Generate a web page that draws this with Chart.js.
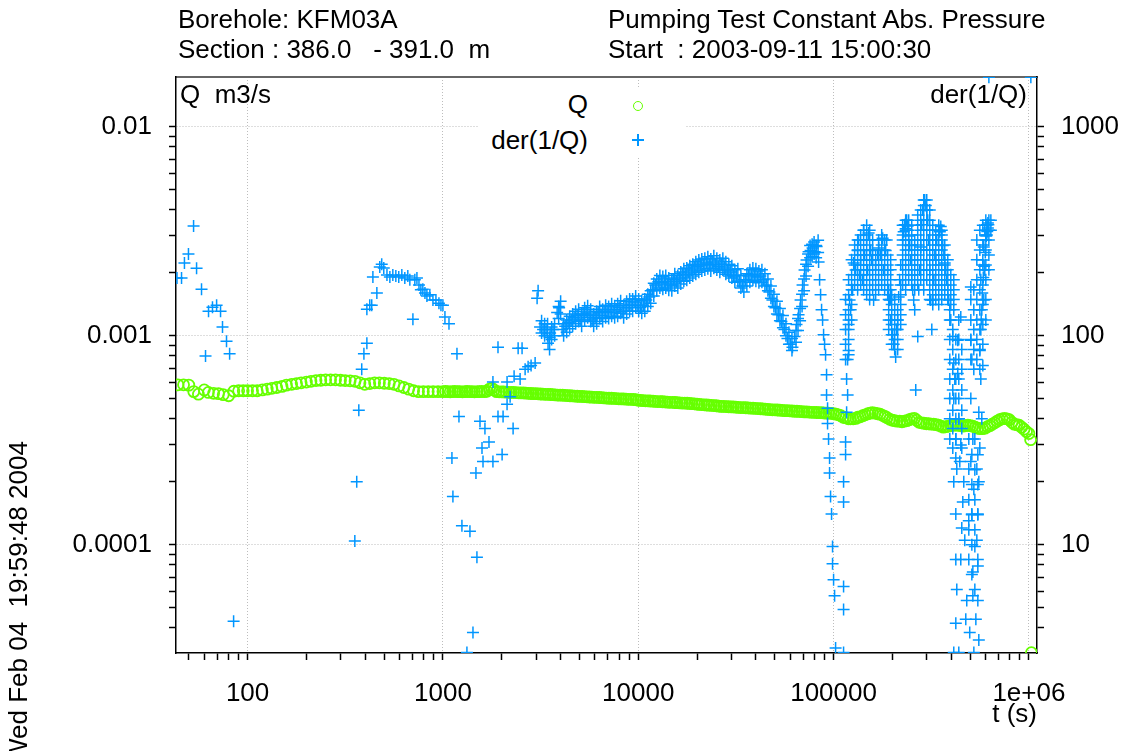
<!DOCTYPE html>
<html><head><meta charset="utf-8">
<script src="https://cdn.jsdelivr.net/npm/chart.js@4.4.1/dist/chart.umd.min.js"></script>
<style>
html,body{margin:0;padding:0;background:#fff;overflow:hidden;}
#wrap{position:relative;width:1125px;height:751px;overflow:hidden;}
canvas{position:absolute;left:0;top:0;}
.t{position:absolute;font-family:'Liberation Sans',Arial,sans-serif;font-size:26px;line-height:26px;color:#000;white-space:pre;}
</style></head><body>
<div id="wrap">
<canvas id="c" width="1125" height="751"></canvas>
<div class="t" style="left:178px;top:6px">Borehole: KFM03A</div>
<div class="t" style="left:178px;top:36px">Section : 386.0   - 391.0  m</div>
<div class="t" style="left:608px;top:6px">Pumping Test Constant Abs. Pressure</div>
<div class="t" style="left:608px;top:36px">Start  : 2003-09-11 15:00:30</div>
<div class="t" style="left:180px;top:81px">Q  m3/s</div>
<div class="t" style="right:98px;top:81px">der(1/Q)</div>
<div style="position:absolute;left:478px;top:88px;width:208px;height:70px;background:#fff"></div>
<div class="t" style="right:537px;top:91px">Q</div>
<div class="t" style="right:537px;top:127px">der(1/Q)</div>
<div style="position:absolute;left:633px;top:101px;width:10px;height:10px;box-sizing:border-box;border:1.5px solid rgb(102,255,0);border-radius:50%"></div>
<div style="position:absolute;left:632px;top:139px;width:12px;height:1.5px;background:rgb(0,150,255)"></div>
<div style="position:absolute;left:637.25px;top:134px;width:1.5px;height:12px;background:rgb(0,150,255)"></div>
<div class="t" style="left:5px;top:763px;transform-origin:0 0;transform:rotate(-90deg)">Wed Feb 04  19:59:48 2004</div>
</div>
<script>
// ---------------- data ----------------
// Q (m3/s) versus time t (s)
const tQ = [44,47,50,53,56,60,63,67,71,75,80,85,90,95,
100,106,112,119,126,133,141,150,158,168,178,188,200,211,224,237,251,266,282,299,316,335,355,376,398,422,447,473,501,531,562,596,631,668,708,750,794,841,891,944,
1000,1030,1060,1090,1120,1150,1190,1220,1260,1300,
1330,1370,1410,1450,1500,1540,1580,1630,1680,1730,
1780,1830,1880,1940,2000,2050,2110,2180,2240,2300,
2370,2440,2510,2590,2660,2740,2820,2900,2990,3070,
3160,3250,3350,3450,3550,3650,3760,3870,3980,4100,
4220,4340,4470,4600,4730,4870,5010,5160,5310,5460,
5620,5790,5960,6130,6310,6490,6680,6880,7080,7290,
7500,7720,7940,8180,8410,8660,8910,9170,9440,9720,
10000,10300,10600,10900,11200,11500,11900,12200,12600,13000,
13300,13700,14100,14500,15000,15400,15800,16300,16800,17300,
17800,18300,18800,19400,20000,20500,21100,21800,22400,23000,
23700,24400,25100,25900,26600,27400,28200,29000,29900,30700,
31600,32500,33500,34500,35500,36500,37600,38700,39800,41000,
42200,43400,44700,46000,47300,48700,50100,51600,53100,54600,
56200,57900,59600,61300,63100,64900,66800,68800,70800,72900,
75000,77200,79400,81800,84100,86600,89100,91700,94400,97200,
100000,103000,106000,109000,112000,115000,119000,122000,126000,130000,
133000,137000,141000,145000,150000,154000,158000,163000,168000,173000,
178000,183000,188000,194000,200000,205000,211000,218000,224000,230000,
237000,244000,251000,259000,266000,274000,282000,290000,299000,307000,
316000,325000,335000,345000,355000,365000,376000,387000,398000,410000,
422000,434000,447000,460000,473000,487000,501000,516000,531000,546000,
562000,579000,596000,613000,631000,649000,668000,688000,708000,729000,
750000,772000,794000,818000,841000,866000,891000,917000,944000,972000,
1000000,1020000,1030000];
const qValues = [5.82e-4,5.82e-4,5.8e-4,5.4e-4,5.25e-4,5.5e-4,5.35e-4,5.3e-4,5.28e-4,5.22e-4,5.16e-4,5.42e-4,5.45e-4,5.45e-4,
5.45e-4,5.45e-4,5.45e-4,5.5e-4,5.55e-4,5.6e-4,5.65e-4,5.72e-4,5.8e-4,5.85e-4,5.9e-4,5.95e-4,6.0e-4,6.05e-4,6.1e-4,6.12e-4,6.15e-4,6.15e-4,6.15e-4,6.12e-4,6.1e-4,6.08e-4,6.05e-4,5.95e-4,5.85e-4,5.9e-4,5.95e-4,5.95e-4,5.92e-4,5.9e-4,5.85e-4,5.75e-4,5.65e-4,5.55e-4,5.45e-4,5.4e-4,5.4e-4,5.4e-4,5.4e-4,5.4e-4,
5.40e-4,5.41e-4,5.40e-4,5.39e-4,5.40e-4,5.41e-4,5.40e-4,5.40e-4,5.39e-4,5.40e-4,
5.41e-4,5.40e-4,5.40e-4,5.39e-4,5.40e-4,5.40e-4,5.41e-4,5.40e-4,5.42e-4,5.55e-4,
5.60e-4,5.50e-4,5.40e-4,5.39e-4,5.38e-4,5.38e-4,5.37e-4,5.36e-4,5.35e-4,5.35e-4,
5.34e-4,5.33e-4,5.32e-4,5.32e-4,5.31e-4,5.30e-4,5.29e-4,5.28e-4,5.28e-4,5.27e-4,
5.26e-4,5.25e-4,5.24e-4,5.24e-4,5.23e-4,5.22e-4,5.21e-4,5.20e-4,5.19e-4,5.19e-4,
5.18e-4,5.17e-4,5.16e-4,5.15e-4,5.14e-4,5.13e-4,5.12e-4,5.12e-4,5.11e-4,5.10e-4,
5.09e-4,5.08e-4,5.07e-4,5.07e-4,5.06e-4,5.05e-4,5.04e-4,5.03e-4,5.02e-4,5.02e-4,
5.01e-4,5.00e-4,4.99e-4,4.98e-4,4.98e-4,4.97e-4,4.96e-4,4.96e-4,4.95e-4,4.94e-4,
4.91e-4,4.90e-4,4.89e-4,4.88e-4,4.88e-4,4.87e-4,4.86e-4,4.85e-4,4.84e-4,4.84e-4,
4.83e-4,4.82e-4,4.81e-4,4.80e-4,4.80e-4,4.79e-4,4.78e-4,4.77e-4,4.76e-4,4.76e-4,
4.75e-4,4.74e-4,4.73e-4,4.72e-4,4.70e-4,4.69e-4,4.68e-4,4.67e-4,4.66e-4,4.65e-4,
4.64e-4,4.63e-4,4.62e-4,4.60e-4,4.59e-4,4.59e-4,4.58e-4,4.57e-4,4.56e-4,4.56e-4,
4.55e-4,4.54e-4,4.53e-4,4.53e-4,4.52e-4,4.51e-4,4.50e-4,4.50e-4,4.49e-4,4.48e-4,
4.47e-4,4.46e-4,4.45e-4,4.44e-4,4.43e-4,4.42e-4,4.42e-4,4.41e-4,4.40e-4,4.39e-4,
4.38e-4,4.38e-4,4.37e-4,4.36e-4,4.35e-4,4.35e-4,4.34e-4,4.33e-4,4.32e-4,4.32e-4,
4.31e-4,4.30e-4,4.30e-4,4.29e-4,4.28e-4,4.28e-4,4.27e-4,4.26e-4,4.26e-4,4.25e-4,
4.23e-4,4.21e-4,4.18e-4,4.14e-4,4.07e-4,4.05e-4,4.00e-4,4.00e-4,4.00e-4,4.02e-4,
4.07e-4,4.09e-4,4.14e-4,4.18e-4,4.23e-4,4.26e-4,4.28e-4,4.26e-4,4.23e-4,4.21e-4,
4.16e-4,4.11e-4,4.05e-4,3.98e-4,3.94e-4,3.92e-4,3.90e-4,3.90e-4,3.87e-4,3.90e-4,
3.92e-4,3.96e-4,4.00e-4,4.02e-4,3.94e-4,3.85e-4,3.83e-4,3.81e-4,3.79e-4,3.79e-4,
3.77e-4,3.77e-4,3.75e-4,3.73e-4,3.69e-4,3.65e-4,3.67e-4,3.69e-4,3.71e-4,3.73e-4,
3.73e-4,3.73e-4,3.71e-4,3.69e-4,3.71e-4,3.73e-4,3.71e-4,3.69e-4,3.65e-4,3.61e-4,
3.59e-4,3.59e-4,3.61e-4,3.67e-4,3.71e-4,3.77e-4,3.83e-4,3.90e-4,3.96e-4,4.00e-4,
4.02e-4,4.00e-4,3.96e-4,3.85e-4,3.77e-4,3.75e-4,3.73e-4,3.65e-4,3.57e-4,3.47e-4,
3.40e-4,3.18e-4,3.04e-5];

// der(1/Q) versus time t (s): scattered points
const tDer = [43.5,45.9,47.5,49.8,52.9,54.8,58.1,60.9,63.1,66.1,
69.4,72.7,74.4,78.0,80.9,84.8,354,362,371,384,
394,408,408,422,432,438,459,475,486,498,
517,535,554,574,594,616,638,661,677,702,
718,736,754,771,789,809,828,857,889,921,
954,977,1000,1024,1074,1112,1125,1180,1208,1251,
1327,1375,1425,1476,1493,1548,1585,1604,1641,1721,
1803,1803,1914,1914,2009,2032,2130,2130,2208,2287,
2314,2427,2484,2542,2635,2730,2827,2965,3035,3071,
3143,3257,3374,3453,3538,3664,3844,3934,4076,4224,
4376,4533,4697,4866,5041,5222,5410,5605,5807,6015,
6233,6457,6690,6930,7180,7438,7706,7983,8270,8568,
8876,9196,9527,9870,10240,10610,10990,11380,11800,12220,
12670,13120,13590,14080,14590,15110,15660,16220,16810,17410,
18040,18690,19360,20060,20780,21530,22310,23110,23940,24800,
25700,26630,27590,28580,29610,30680,31780,32930,34120,35350,
36620,37940,39310,40730,42200,43720,45300,46930,48620,50380,
52190,54080,56030,58050,60140,61590,63100,64590,66180,67760,
69370,71020,72730,74480,76250,78070,79960,81860,83810,84800,
85800,86810,87840,88880,89930,90990,92060,92060,93150,93150,
94250,95370,95370,96500,97640,98790,98790,100000,101200,102400,
112500,112500,112500,112500,112500,115200,115200,116600,116600,118000,
118000,119400,119400,119400,120800,122300,123700,125100,126700,129700,
132800,134300,135900,137500,140800,142500,144200,147600,149300,151100,
154800,156600,160300,164100,168300,170100,174100,178300,180300,184800,
187000,189200,191400,193700,196000,200700,203100,207900,210400,212900,
215400,217900,220600,225800,228500,231200,233900,236700,239500,242400,
245300,248200,251200,254100,257100,260200,263400,269700,272900,276100,
279400,282700,286100,289700,292900,296500,299900,303500,307100,310700,
314400,318300,322100,325900,329800,333700,337500,345400,349900,353800,
358300,362200,366800,370800,375500,379700,384400,388700,393300,398100,
407600,412400,412400,412400,412400,417400,422400,422400,422400,422400,
427300,427300,432300,432300,437500,437500,442700,447900,447900,447900,
453200,458600,464000,469500,475100,480600,492100,497700,504200,504200,
504200,504200,510300,510300,516400,516400,516400,522500,522500,528700,
535000,541200,541200,547600,547600,547600,554000,554000,554000,560500,
560500,567200,567200,567200,573900,573900,580700,580700,587500,587500,
594400,594400,601700,609100,609100,616500,616500,623700,1023000,
570000,577000,584000,590000,598000,605000,612000,620000];
const derValues = [189,189,223,246,335,210,167,80,131,137,
140,131,110,94,82,4.3,10.4,20,44,69,
82,92,134,140,140,191,160,213,220,211,
195,191,195,193,191,195,189,193,185,120,
185,189,175,166,167,160,155,157,148,148,
143,140,140,123,114,26,17,82,41,12.3,
3.05,11.6,3.8,22,8.7,39,29,25,36,31,
25,60,41,88,27,41,47,60,51,36,
64,87,62,87,69,71,72,74,151,164,
110,107,107,92,103,107,129,136,107,111,
116,119,122,125,119,127,130,125,119,122,
129,125,131,129,133,130,133,137,131,136,
140,140,145,140,137,140,148,153,166,175,
181,179,181,177,175,185,181,189,195,197,
202,206,211,215,218,220,223,218,225,220,
215,220,211,206,202,193,195,181,173,185,
193,197,195,191,193,185,175,162,148,136,
126,117,107,97,91,88,99,113,126,148,
175,206,230,252,256,263,252,267,225,185,
157,133,119,101,91,81,65,52,45,38,
32,26,22,17,14,9.8,8.1,6.8,5.7,3.2,
3.05,4.9,6.3,20,16,27,31,43,62,77,
52,107,119,85,148,133,175,166,223,206,
256,287,195,230,185,320,243,287,206,310,
256,230,148,218,243,263,243,293,206,256,
287,206,166,148,119,101,91,79,107,119,
153,185,218,287,314,340,325,357,335,300,
270,230,195,166,148,133,55,99,166,206,
266,340,400,420,446,420,400,357,287,206,
148,107,148,185,243,230,287,320,314,333,
303,270,243,223,206,185,166,148,133,119,
99,74,50,20,3.05,62,14,8.5,4.2,32,
23,6.1,95,66,40,3.05,25,123,30,8.5,
12,16,20,10.5,4.4,5.4,13,3.8,171,95,
50,25,14,77,7.4,5.7,32,3.05,18.4,9.8,
4.4,10.5,23,14,7.9,5.4,43,20,3.5,29,
85,62,107,185,133,40,230,72,266,148,
320,206,287,340,303,346,328,1725,1725,
120,160,190,215,250,300,315,340];

// der(1/Q): upper and lower edges of the dense band (3000 - 85000 s)
const tDerBand = [3200,3316,3434,3515,3601,3730,3913,4005,4149,4300,
4455,4614,4781,4953,5131,5316,5507,5706,5911,6123,
6345,6573,6810,7054,7309,7572,7844,8126,8418,8721,
9035,9361,9698,10050,10420,10800,11190,11580,12010,12440,
12900,13360,13830,14330,14850,15380,15940,16510,17110,17720,
18360,19020,19710,20420,21150,21920,22710,23520,24370,25250,
26160,27110,28080,29090,30140,31230,32350,33520,34730,35980,
37280,38620,40010,41460,42960,44500,46110,47770,49490,51280,
53120,55050,57040,59090,61220,64230,65750,67370,68970,70610,
72290,74030,75810,77620,79470,81400,83330];
const derBandUpper = [118,114,114,98,110,114,138,146,114,119,
124,127,131,134,127,136,139,134,127,131,
138,134,140,138,142,139,142,147,140,146,
150,150,155,150,147,150,158,164,178,187,
194,192,194,189,187,198,194,202,209,211,
216,220,226,230,233,235,239,233,241,235,
230,235,226,220,216,207,209,194,185,198,
207,211,209,204,207,198,187,173,158,146,
135,125,114,104,97,106,121,135,158,187,
220,246,270,274,281,270,286];
const derBandLower = [103,100,100,86,96,100,121,127,100,104,
108,111,114,117,111,119,122,117,111,114,
121,117,122,121,124,122,124,128,122,127,
131,131,136,131,128,131,138,143,155,164,
169,167,169,165,164,173,169,177,182,184,
189,193,197,201,204,206,209,204,210,206,
201,206,197,193,189,180,182,169,162,173,
180,184,182,179,180,173,164,151,138,127,
118,109,100,91,85,93,106,118,138,164,
193,215,236,239,246,236,250];

// der(1/Q): dense clusters after 1e5 s (one line per time column)
const tDerCluster = [
115200,115200,115200,115200,115200,
119400,119400,119400,119400,119400,119400,
123700,123700,123700,123700,123700,
128200,128200,128200,128200,128200,
132800,132800,132800,132800,132800,132800,
137600,137600,137600,137600,137600,137600,
142500,142500,142500,142500,142500,142500,142500,
147700,147700,147700,147700,147700,147700,147700,147700,
153000,153000,153000,153000,153000,153000,153000,153000,
158500,158500,158500,158500,158500,158500,
164200,164200,164200,164200,164200,
170100,170100,170100,170100,170100,170100,
176300,176300,176300,176300,176300,176300,
182600,182600,182600,182600,182600,182600,
189200,189200,189200,189200,189200,
191500,191500,191500,191500,
196000,196000,196000,196000,196000,
198400,198400,198400,198400,198400,198400,
205500,205500,205500,205500,205500,205500,
212900,212900,212900,212900,212900,
220600,220600,220600,220600,220600,
225800,225800,225800,225800,225800,225800,225800,
233900,233900,233900,233900,233900,233900,233900,233900,
242400,242400,242400,242400,242400,242400,242400,
251200,251200,251200,251200,251200,251200,251200,
260200,260200,260200,260200,260200,260200,
269600,269600,269600,269600,269600,269600,269600,269600,
279300,279300,279300,279300,279300,279300,279300,279300,
289400,289400,289400,289400,289400,289400,289400,289400,289400,289400,
299900,299900,299900,299900,299900,299900,299900,299900,299900,
310700,310700,310700,310700,310700,310700,310700,310700,310700,310700,
321900,321900,321900,321900,321900,321900,321900,321900,321900,
333500,333500,333500,333500,333500,333500,333500,333500,
345500,345500,345500,345500,345500,345500,345500,345500,345500,
357900,357900,357900,357900,357900,357900,357900,357900,
370800,370800,370800,370800,370800,370800,
384200,384200,384200,384200,384200,
393500,393500,393500,393500,393500,393500,393500,
398100,398100,398100,398100,
407600,407600,407600,407600,407600,407600,407600,
412400,412400,412400,412400,
422400,422400,422400,422400,422400,422400,422400,
437500,437500,437500,437500,437500,437500,
453200,453200,453200,453200,453200,453200,
492300,492300,492300,492300,492300,
504200,504200,504200,504200,
510300,510300,510300,510300,510300,
522200,522200,522200,522200,522200,
528600,528600,528600,528600,528600,
541100,541100,541100,541100,541100,541100,541100,
547600,547600,547600,547600,
560700,560700,560700,560700,560700,560700,560700,560700,
580800,580800,580800,580800,580800,580800,580800,
601700,601700,601700,601700,601700,601700,601700,
623700,623700,623700,623700,623700,
638500,638500];
const derCluster = [
149,126,107,91,77,
185,157,133,113,96,81,
231,196,166,141,119,
272,243,218,196,175,
287,257,231,207,185,166,
303,272,243,218,196,175,
320,287,257,231,207,185,166,
338,303,272,243,218,196,175,157,
320,287,257,231,207,185,166,149,
287,257,231,207,185,166,
243,218,196,175,157,
287,257,231,207,185,166,
303,272,243,218,196,175,
287,257,231,207,185,166,
243,218,196,175,157,
149,133,119,107,
231,207,185,166,149,
157,141,126,113,101,91,
149,133,119,107,96,86,
133,119,107,96,86,
175,157,141,126,113,
338,303,272,243,218,196,175,
357,320,287,257,231,207,185,166,
357,320,287,257,231,207,185,
338,303,272,243,218,196,175,
287,257,231,207,185,166,
378,338,303,272,243,218,196,175,
399,357,320,287,257,231,207,185,
446,399,357,320,287,257,231,207,185,166,
446,399,357,320,287,257,231,207,185,
399,357,320,287,257,231,207,185,166,149,
338,303,272,243,218,196,175,157,141,
320,287,257,231,207,185,166,149,
338,303,272,243,218,196,175,157,141,
320,287,257,231,207,185,166,149,
272,243,218,196,175,157,
231,207,185,166,149,
119,96,77,62,50,40,32,
196,175,157,141,
107,86,69,55,44,36,29,
185,166,149,133,
96,77,62,50,40,32,26,
119,96,77,62,50,40,
86,69,55,44,36,29,
32,23,16.4,11.8,8.5,
149,119,96,77,
27,19.4,13.9,10.0,7.2,
166,133,107,86,69,
32,22.8,16.4,11.8,6.1,
287,231,185,149,119,96,77,
26.9,19.4,13.9,8.5,
320,257,207,166,133,107,86,69,
338,272,218,175,141,113,91,
357,303,257,218,185,149,119,
357,320,287,243,207,
357,320];

// axis tick labels
const xTickValues = [100,1000,10000,100000,1000000];
const xTickLabels = ['100','1000','10000','100000','1e+06'];
const yTickValues = [0.0001,0.001,0.01];
const yTickLabels = ['0.0001','0.001','0.01'];
const y2TickValues = [10,100,1000];
const y2TickLabels = ['10','100','1000'];

// ---------------- chart ----------------
const GREEN = 'rgb(102,255,0)';
const BLUE = 'rgb(0,150,255)';
const X_MIN = 43, X_MAX = 1.1e6;
const Y_MIN = 3.03e-5, Y_MAX = 0.0173;
const Y2_MIN = 3.03, Y2_MAX = 1730;

Chart.defaults.font.family = "'Liberation Sans', Arial, sans-serif";
Chart.defaults.font.size = 26;
Chart.defaults.color = '#000';

function allLogTicks(min, max) {
  const out = [];
  for (let e = Math.floor(Math.log10(min)); e <= Math.ceil(Math.log10(max)); e++) {
    for (let m = 1; m < 10; m++) {
      const v = m * Math.pow(10, e);
      if (v >= min * 0.9999 && v <= max * 1.0001) out.push({value: v});
    }
  }
  return out;
}
function isMajor(v) {
  const l = Math.log10(v);
  return Math.abs(l - Math.round(l)) < 1e-6;
}
function labelFor(values, labels) {
  return function(v) {
    for (let i = 0; i < values.length; i++) {
      if (Math.abs(v / values[i] - 1) < 1e-6) return labels[i];
    }
    return '';
  };
}
const gridColor = (c) => (c.tick && isMajor(c.tick.value)) ? '#bdbdbd' : 'rgba(0,0,0,0)';
const pairs = (ts, vs) => ts.map((t, i) => ({x: t, y: vs[i]}));

const derData = [].concat(
  pairs(tDer, derValues),
  pairs(tDerBand, derBandUpper),
  pairs(tDerBand, derBandLower),
  pairs(tDerCluster, derCluster)
);

new Chart(document.getElementById('c'), {
  type: 'scatter',
  data: {
    datasets: [
      {
        label: 'der(1/Q)', data: derData,
        xAxisID: 'x', yAxisID: 'y2', order: 1,
        pointStyle: 'cross', pointRadius: 6, borderWidth: 1.5,
        borderColor: BLUE, backgroundColor: BLUE
      },
      {
        label: 'Q', data: pairs(tQ, qValues),
        xAxisID: 'x', yAxisID: 'y', order: 2,
        pointStyle: 'circle', pointRadius: 5.5, borderWidth: 1.8,
        borderColor: GREEN, backgroundColor: 'rgba(0,0,0,0)'
      }
    ]
  },
  options: {
    responsive: false,
    animation: false,
    events: [],
    devicePixelRatio: 1,
    layout: {padding: {top: 77, left: 0, right: 0, bottom: 0}},
    plugins: {legend: {display: false}, tooltip: {enabled: false}},
    scales: {
      x: {
        type: 'logarithmic', position: 'bottom', min: X_MIN, max: X_MAX,
        afterBuildTicks: s => { s.ticks = allLogTicks(X_MIN, X_MAX); },
        afterFit: s => { s.height = 98; },
        ticks: {autoSkip: false, maxRotation: 0, minRotation: 0, padding: 18,
          callback: labelFor(xTickValues, xTickLabels), font: {size: 26}},
        grid: {color: gridColor, lineWidth: 1, tickLength: 7, tickColor: '#000', tickWidth: 1.5},
        border: {display: true, color: '#000', width: 1.5, dash: [1, 2]},
        title: {display: true, text: 't (s)', align: 'end', font: {size: 26}, padding: {top: 0, bottom: 21}}
      },
      xTop: {
        type: 'logarithmic', position: 'top', min: X_MIN, max: X_MAX,
        afterFit: s => { s.height = 0; },
        ticks: {display: false},
        grid: {display: false, drawTicks: false},
        border: {display: true, color: '#666', width: 2}
      },
      y: {
        type: 'logarithmic', position: 'left', min: Y_MIN, max: Y_MAX,
        afterBuildTicks: s => { s.ticks = allLogTicks(Y_MIN, Y_MAX); },
        afterFit: s => { s.width = 176; },
        ticks: {autoSkip: false, padding: 17, callback: labelFor(yTickValues, yTickLabels), font: {size: 26}},
        grid: {color: gridColor, lineWidth: 1, tickLength: 7, tickColor: '#000', tickWidth: 1.5},
        border: {display: true, color: '#000', width: 1.5, dash: [1, 2]}
      },
      y2: {
        type: 'logarithmic', position: 'right', min: Y2_MIN, max: Y2_MAX,
        afterBuildTicks: s => { s.ticks = allLogTicks(Y2_MIN, Y2_MAX); },
        afterFit: s => { s.width = 88; },
        ticks: {autoSkip: false, padding: 17, callback: labelFor(y2TickValues, y2TickLabels), font: {size: 26}},
        grid: {drawOnChartArea: false, color: 'rgba(0,0,0,0)', tickLength: 7, tickColor: '#000', tickWidth: 1.5},
        border: {display: true, color: '#000', width: 1.5}
      }
    }
  }
});
</script>
</body></html>
